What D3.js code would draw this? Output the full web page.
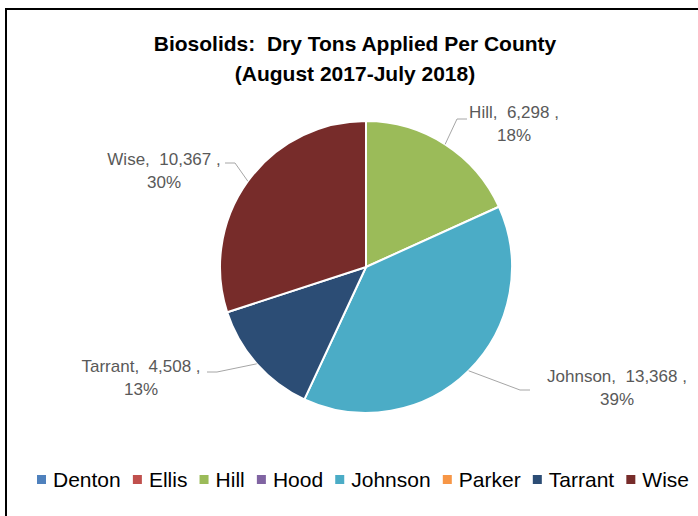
<!DOCTYPE html>
<html>
<head>
<meta charset="utf-8">
<script src="https://cdn.jsdelivr.net/npm/d3@7"></script>
<style>
  body { margin: 0; background: #fff; }
  svg { display: block; font-family: "Liberation Sans", Arial, sans-serif; }
</style>
</head>
<body>
<script>
// data
const counties = ["Denton", "Ellis", "Hill", "Hood", "Johnson", "Parker", "Tarrant", "Wise"];
const tons = [0, 0, 6298, 0, 13368, 0, 4508, 10367];
const colors = ["#4F81BD", "#C0504D", "#9BBB59", "#8064A2", "#4BACC6", "#F79646", "#2C4D75", "#772C2A"];
const titleLines = ["Biosolids:  Dry Tons Applied Per County", "(August 2017-July 2018)"];

// label placement, relative to pie centre (text centre/baseline, leader end)
const labelLayout = {
  Hill:    { tx: 148, ty: -149, ex: 101, ey: -148, side: 1 },
  Johnson: { tx: 251, ty: 115, ex: 164, ey: 123, side: 1 },
  Tarrant: { tx: -225, ty: 105, ex: -159, ey: 105, side: -1 },
  Wise:    { tx: -202, ty: -102, ex: -141, ey: -104, side: -1 }
};

const width = 698;
const height = 516;
const cx = 366, cy = 267, r = 146;

const svg = d3.select("body").append("svg")
  .attr("width", width)
  .attr("height", height);

// chart border
svg.append("rect")
  .attr("x", 6).attr("y", 9)
  .attr("width", width + 10).attr("height", height + 10)
  .attr("fill", "none")
  .attr("stroke", "#000")
  .attr("stroke-width", 2);

// title
svg.append("g").selectAll("text")
  .data(titleLines)
  .join("text")
  .attr("x", 355)
  .attr("y", (d, i) => 51 + i * 30)
  .attr("text-anchor", "middle")
  .attr("font-weight", "bold")
  .attr("font-size", 21)
  .attr("fill", "#000")
  .style("white-space", "pre")
  .text(d => d);

const data = counties.map((c, i) => ({ name: c, value: tons[i], color: colors[i] }));
const total = d3.sum(tons);

const pie = d3.pie().sort(null).value(d => d.value);
const arcs = pie(data).filter(d => d.data.value > 0);
const arc = d3.arc().innerRadius(0).outerRadius(r);
const edgeArc = d3.arc().innerRadius(r).outerRadius(r);

const g = svg.append("g").attr("transform", `translate(${cx},${cy})`);

g.selectAll("path")
  .data(arcs)
  .join("path")
  .attr("d", arc)
  .attr("fill", d => d.data.color)
  .attr("stroke", "#fff")
  .attr("stroke-width", 2)
  .attr("stroke-linejoin", "round");

// leader lines
const fmt = d3.format(",");
g.selectAll("polyline")
  .data(arcs)
  .join("polyline")
  .attr("fill", "none")
  .attr("stroke", "#A6A6A6")
  .attr("stroke-width", 1)
  .attr("points", d => {
    const L = labelLayout[d.data.name];
    const s = edgeArc.centroid(d);
    const elbow = [L.ex - L.side * 10, L.ey];
    return [s, elbow, [L.ex, L.ey]].map(p => p.join(",")).join(" ");
  });

// data labels
const labels = g.selectAll("text.lbl")
  .data(arcs)
  .join("text")
  .attr("class", "lbl")
  .attr("text-anchor", "middle")
  .attr("font-size", 17)
  .attr("fill", "#595959")
  .style("white-space", "pre");

labels.append("tspan")
  .attr("x", d => labelLayout[d.data.name].tx)
  .attr("y", d => labelLayout[d.data.name].ty)
  .text(d => `${d.data.name},  ${fmt(d.data.value)} ,`);

labels.append("tspan")
  .attr("x", d => labelLayout[d.data.name].tx)
  .attr("y", d => labelLayout[d.data.name].ty + 23)
  .text(d => Math.round(d.data.value / total * 100) + "%");

// legend: items laid out left to right, spread to fill the span 37..689
const legend = svg.append("g").attr("transform", "translate(37,487)");
const items = legend.selectAll("g")
  .data(data)
  .join("g");
items.append("rect")
  .attr("x", 0).attr("y", -12)
  .attr("width", 9).attr("height", 9)
  .attr("fill", d => d.color);
items.append("text")
  .attr("x", 16).attr("y", 0)
  .attr("font-size", 21)
  .attr("fill", "#000")
  .text(d => d.name);
const widths = items.select("text").nodes().map(n => 16 + n.getComputedTextLength());
const gap = (652 - d3.sum(widths)) / (data.length - 1);
let lx = 0;
items.attr("transform", (d, i) => {
  const x = lx;
  lx += widths[i] + gap;
  return `translate(${x},0)`;
});
</script>
</body>
</html>
